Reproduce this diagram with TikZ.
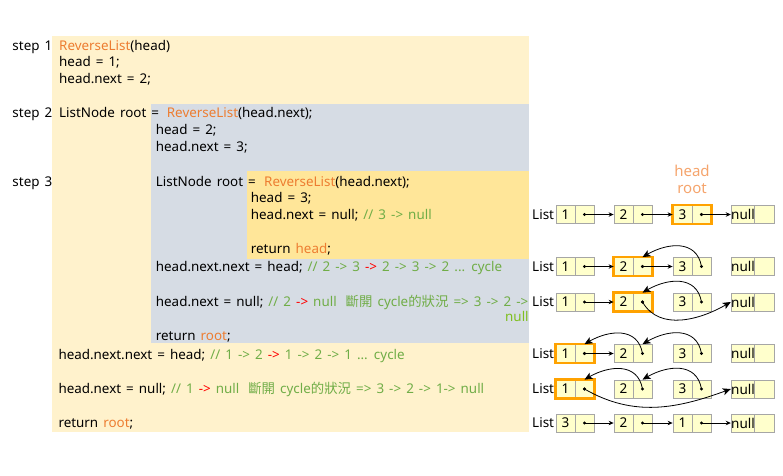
\documentclass[tikz,border=0pt]{standalone}
\usepackage{fontspec}
\setmainfont[WordSpace=1.45]{Noto Sans}
\newfontfamily\cjkf{Noto Sans CJK TC}
\usetikzlibrary{arrows.meta}
\definecolor{bgA}{HTML}{FFF2CC}
\definecolor{bgB}{HTML}{D6DCE4}
\definecolor{bgC}{HTML}{FFE699}
\definecolor{kwc}{HTML}{ED7D31}
\definecolor{cmc}{HTML}{70AD47}
\definecolor{cmlime}{HTML}{7FBF1F}
\definecolor{redc}{HTML}{FF0000}
\definecolor{cellfill}{HTML}{FFFFCC}
\definecolor{cellline}{HTML}{A6A6A6}
\definecolor{hlc}{HTML}{FFA200}
\definecolor{lblc}{HTML}{F5A46C}
\newcommand{\kwx}[1]{\textcolor{kwc}{#1}}
\newcommand{\cmx}[1]{\textcolor{cmc}{#1}}
\newcommand{\rdx}[1]{\textcolor{redc}{#1}}
\newcommand{\codefont}{\fontsize{13.4}{17}\selectfont}
\newcommand{\lnode}[4]{%
  \node[cell] (#1v) at (#2+9.5,#3) {#4};
  \node[cell] (#1p) at (#2+28.5,#3) {};
  \fill (#1p.center) circle[radius=1.6pt];}
\newcommand{\nullnode}[2]{%
  \node[cell, minimum width=22pt] (#1nv) at (743,#2) {null};
  \node[cell, minimum width=20pt] (#1np) at (764,#2) {};}
\begin{document}
\begin{tikzpicture}[x=1pt,y=-1pt,
  code/.style={anchor=base west, inner sep=0pt, font=\codefont},
  cell/.style={draw=cellline, fill=cellfill, line width=0.8pt, minimum width=19pt,
    minimum height=18pt, inner sep=0pt, font=\fontsize{13.5}{14}\selectfont},
  listlbl/.style={anchor=west, inner sep=0pt, font=\fontsize{13.5}{14}\selectfont},
  hlbox/.style={draw=hlc, line width=2.6pt},
  sarr/.style={line width=0.8pt, -{Stealth[length=5pt,width=4.5pt]}},
  carr/.style={line width=0.8pt, -{Stealth[length=8pt,width=7pt,inset=2pt]}},
  toplbl/.style={inner sep=0pt, text=lblc, font=\fontsize{15}{16}\selectfont}]
\useasboundingbox (0,0) rectangle (783,475);
% backgrounds
\fill[bgA] (52,36) rectangle (529,432);
\fill[bgB] (151,104) rectangle (529,343);
\fill[bgC] (247,171) rectangle (529,259);
% step labels
\node[code] (st1) at (12.3,50.2) {step 1};
\node[code] (st2) at (12.3,117.8) {step 2};
\node[code] (st3) at (12.3,186.2) {step 3};
% step 1
\node[code] (l1) at (59,50.2) {\kwx{ReverseList}(head)};
\node[code] (l2) at (59,66.8) {head = 1;};
\node[code] (l3) at (59,83.8) {head.next = 2;};
% step 2
\node[code] (l4a) at (59,117.8) {ListNode root =};
\node[code] (l4b) at (166.7,117.8) {\kwx{ReverseList}(head.next);};
\node[code] (l5) at (155.7,134.5) {head = 2;};
\node[code] (l6) at (155.7,151.8) {head.next = 3;};
% step 3
\node[code] (l7a) at (155.7,186.2) {ListNode root =};
\node[code] (l7b) at (264,186.2) {\kwx{ReverseList}(head.next);};
\node[code] (l8) at (250.7,202.2) {head = 3;};
\node[code] (l9) at (250.7,219.5) {head.next = null; \cmx{// 3 -> null}};
\node[code] (l10) at (250.7,253.8) {return \kwx{head};};
\node[code] (l11) at (155.7,271.8) {head.next.next = head; \cmx{// 2 -> 3} \rdx{->} \cmx{2 -> 3 -> 2 ... cycle}};
\node[code] (l12) at (155.7,306.8) {head.next = null; \cmx{// 2} \rdx{->} \cmx{null}\hspace{9pt}\cmx{{\cjkf 斷開} cycle{\cjkf 的狀況} => 3 -> 2 ->}};
\node[code, text=cmlime] (l12b) at (505,321.8) {null};
\node[code] (l13) at (155.7,340.5) {return \kwx{root};};
\node[code] (l14) at (58.3,359.5) {head.next.next = head; \cmx{// 1 -> 2} \rdx{->} \cmx{1 -> 2 -> 1 ... cycle}};
\node[code] (l15) at (58.3,393.5) {head.next = null; \cmx{// 1} \rdx{->} \cmx{null}\hspace{9pt}\cmx{{\cjkf 斷開} cycle{\cjkf 的狀況} => 3 -> 2 -> 1-> null}};
\node[code] (l16) at (58.3,427.8) {return \kwx{root};};
% head / root labels
\node[toplbl] (hd) at (692,171) {head};
\node[toplbl] (rt) at (692,189) {root};
% row 1
\node[listlbl] (r1L) at (532,214.5) {List};
\lnode{r1a}{556}{214.5}{1}
\lnode{r1b}{614}{214.5}{2}
\lnode{r1c}{673}{214.5}{3}
\nullnode{r1}{214.5}
\draw[hlbox] (r1cv.north west) rectangle (r1cp.south east);
\fill (r1cp.center) circle[radius=1.6pt];
\draw[sarr] (r1ap.center) -- (r1bv.west);
\draw[sarr] (r1bp.center) -- (r1cv.west);
\draw[sarr] (r1cp.center) -- (r1nv.west);
% row 2
\node[listlbl] (r2L) at (532,266.5) {List};
\lnode{r2a}{556}{266.5}{1}
\lnode{r2b}{614}{266.5}{2}
\lnode{r2c}{673}{266.5}{3}
\nullnode{r2}{266.5}
\draw[hlbox] (r2bv.north west) rectangle (r2bp.south east);
\fill (r2bp.center) circle[radius=1.6pt];
\draw[sarr] (r2ap.center) -- (r2bv.west);
\draw[sarr] (r2bp.center) -- (r2cv.west);
\draw[carr] (r2cp.center) to[out=100,in=30,looseness=1.2] (r2bp.north);
% row 3
\node[listlbl] (r3L) at (532,302) {List};
\lnode{r3a}{556}{302}{1}
\lnode{r3b}{614}{302}{2}
\lnode{r3c}{673}{302}{3}
\nullnode{r3}{302}
\draw[hlbox] (r3bv.north west) rectangle (r3bp.south east);
\fill (r3bp.center) circle[radius=1.6pt];
\draw[sarr] (r3ap.center) -- (r3bv.west);
\draw[carr] (r3bp.center) to[out=-60,in=-150] (r3nv.west);
\draw[carr] (r3cp.center) to[out=100,in=30,looseness=1.2] (r3bp.north);
% row 4
\node[listlbl] (r4L) at (532,353.5) {List};
\lnode{r4a}{556}{353.5}{1}
\lnode{r4b}{614}{353.5}{2}
\lnode{r4c}{673}{353.5}{3}
\nullnode{r4}{353.5}
\draw[hlbox] (r4av.north west) rectangle (r4ap.south east);
\fill (r4ap.center) circle[radius=1.6pt];
\draw[sarr] (r4ap.center) -- (r4bv.west);
\draw[carr] (r4bp.center) to[out=100,in=30,looseness=1.2] (r4ap.north);
\draw[carr] (r4cp.center) to[out=100,in=30,looseness=1.2] (r4bp.north);
% row 5
\node[listlbl] (r5L) at (532,389) {List};
\lnode{r5a}{556}{389}{1}
\lnode{r5b}{614}{389}{2}
\lnode{r5c}{673}{389}{3}
\nullnode{r5}{389}
\draw[hlbox] (r5av.north west) rectangle (r5ap.south east);
\fill (r5ap.center) circle[radius=1.6pt];
\draw[carr] (r5ap.center) to[out=-30,in=-160] (r5nv.west);
\draw[carr] (r5bp.center) to[out=100,in=30,looseness=1.2] (r5ap.north);
\draw[carr] (r5cp.center) to[out=100,in=30,looseness=1.2] (r5bp.north);
% row 6
\node[listlbl] (r6L) at (532,423) {List};
\lnode{r6a}{556}{423}{3}
\lnode{r6b}{614}{423}{2}
\lnode{r6c}{673}{423}{1}
\nullnode{r6}{423}
\draw[sarr] (r6ap.center) -- (r6bv.west);
\draw[sarr] (r6bp.center) -- (r6cv.west);
\draw[sarr] (r6cp.center) -- (r6nv.west);
\end{tikzpicture}
\end{document}
